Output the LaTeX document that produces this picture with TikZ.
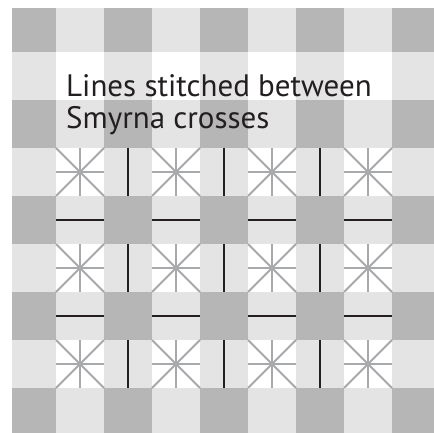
\documentclass[tikz,border=0pt]{standalone}
\usepackage{fontspec}
\setmainfont{PT Sans}
\definecolor{darkcell}{HTML}{B7B6B7}
\definecolor{lightcell}{HTML}{E5E4E5}
\definecolor{crossgrey}{HTML}{A7A9AC}
\definecolor{stitch}{HTML}{231F20}
\tikzset{
  crossline/.style={draw=crossgrey, line width=1.8pt},
  stitchline/.style={draw=stitch, line width=2.2pt},
  label/.style={anchor=base west, inner sep=0pt, font=\fontsize{31}{32}\selectfont, text=stitch}
}
\begin{document}
\begin{tikzpicture}[x=1pt,y=-1pt]
\useasboundingbox (0,0) rectangle (434,433);
\begin{scope}
\clip (0,0) rectangle (434,433);
\fill[white] (0,0) rectangle (434,433);
\foreach \r in {0,...,8}{
  \foreach \c in {0,...,8}{
    \pgfmathtruncatemacro{\re}{mod(\r,2)}
    \pgfmathtruncatemacro{\ce}{mod(\c,2)}
    \ifnum\re=0 \ifnum\ce=0 \def\col{darkcell}\else\def\col{lightcell}\fi
    \else \ifnum\ce=1 \def\col{white}\else\def\col{lightcell}\fi\fi
    \fill[\col] ({8+48*\c},{4+48*\r}) rectangle ++(48,48);
  }
}
\fill[white] (0,0) rectangle (12,433);
\fill[white] (0,0) rectangle (434,8);
% Smyrna crosses
\foreach \r in {3,5,7}{
  \foreach \c in {1,3,5,7}{
    \pgfmathsetmacro{\xa}{8+48*\c}
    \pgfmathsetmacro{\ya}{4+48*\r}
    \draw[crossline] (\xa,\ya+24) -- ++(48,0);
    \draw[crossline] (\xa+24,\ya) -- ++(0,48);
    \draw[crossline] (\xa,\ya) -- ++(48,48);
    \draw[crossline] (\xa,\ya+48) -- ++(48,-48);
  }
}
% vertical stitches
\foreach \r in {3,5,7}{
  \foreach \c in {2,4,6}{
    \draw[stitchline] ({8+48*\c+24},{4+48*\r}) -- ++(0,48);
  }
}
% horizontal stitches
\foreach \r in {4,6}{
  \foreach \c in {1,3,5,7}{
    \draw[stitchline] ({8+48*\c},{4+48*\r+24}) -- ++(48,0);
  }
}
\end{scope}
\node[label] (line1) at (66,97) {Lines stitched between};
\node[label] (line2) at (66,129) {Smyrna crosses};
\end{tikzpicture}
\end{document}
